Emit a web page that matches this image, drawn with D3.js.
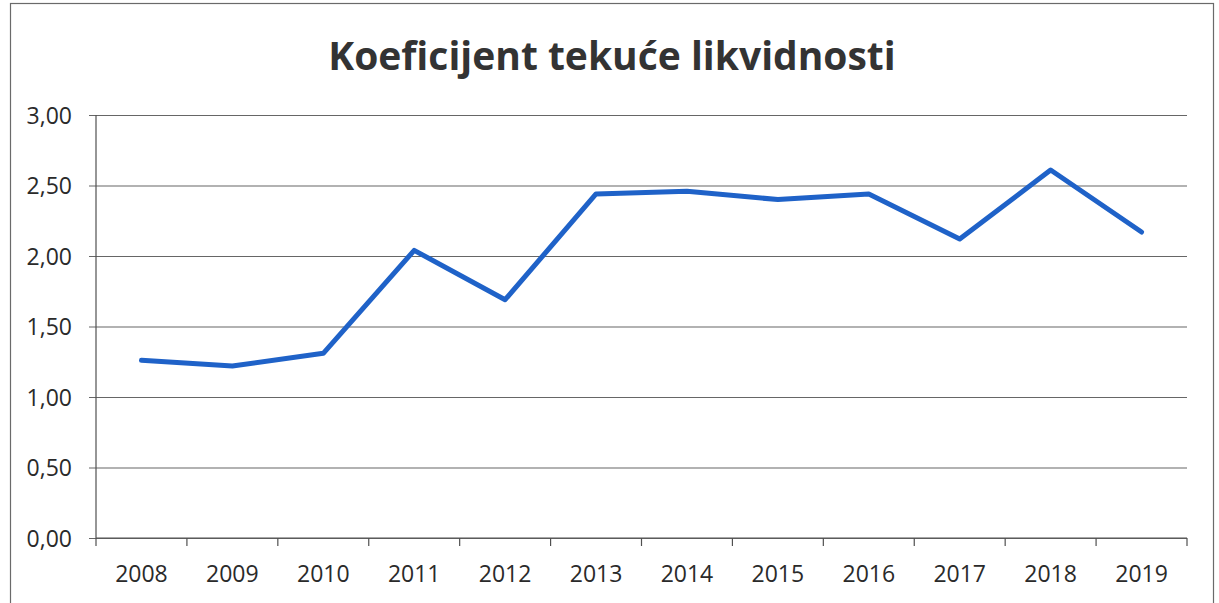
<!DOCTYPE html>
<html>
<head>
<meta charset="utf-8">
<script src="https://cdn.jsdelivr.net/npm/d3@7"></script>
<style>
  html, body { margin: 0; padding: 0; background: #fff; }
  svg { display: block; }
</style>
</head>
<body>
<div id="chart"></div>
<script>
// Chart data
const TITLE  = 'Koeficijent tekuće likvidnosti';
const YEARS  = ['2008', '2009', '2010', '2011', '2012', '2013', '2014', '2015', '2016', '2017', '2018', '2019'];
const RATIO  = [1.26, 1.22, 1.31, 2.04, 1.69, 2.44, 2.46, 2.40, 2.44, 2.12, 2.61, 2.17];
const Y_TICKS = [0, 0.5, 1, 1.5, 2, 2.5, 3];

const W = 1219, H = 603;
const INK   = '#2a2a2a';
const GRID  = '#666666';
const AXIS  = '#505050';
const BLUE  = '#1f62c8';
const FONT  = "'Open Sans', 'Noto Sans', sans-serif";

const margin = { top: 115, right: 32, bottom: 65, left: 96 };
const width  = W - margin.left - margin.right;
const height = H - margin.top - margin.bottom;

const locale = d3.formatLocale({ decimal: ',', thousands: '.', grouping: [3], currency: ['', ''] });
const fmt = locale.format('.2f');

const svg = d3.select('#chart').append('svg')
  .attr('width', W).attr('height', H)
  .attr('viewBox', `0 0 ${W} ${H}`);

svg.append('rect').attr('width', W).attr('height', H).attr('fill', '#fff');

// outer chart border (bottom edge runs off the page)
svg.append('rect')
  .attr('x', 10.5).attr('y', 3.5)
  .attr('width', 1203).attr('height', 640)
  .attr('fill', 'none')
  .attr('stroke', '#6a6a6a').attr('stroke-width', 1.2);

// title
const title = svg.append('text')
  .attr('x', 612).attr('y', 70)
  .attr('text-anchor', 'middle')
  .style('font-family', FONT)
  .style('font-weight', 700)
  .style('font-size', '36px')
  .style('fill', '#333333')
  .text(TITLE);
// fit to the width the title takes in the reference
const tl = title.node().getComputedTextLength();
if (tl > 0) title.style('font-size', (36 * 567 / tl).toFixed(1) + 'px');

const g = svg.append('g').attr('transform', `translate(${margin.left},${margin.top})`);

const x = d3.scaleBand().domain(YEARS).range([0, width]).padding(0);
const y = d3.scaleLinear().domain([0, 3]).range([height, 0]);

// gridlines + y labels
const yAxis = g.append('g')
  .call(d3.axisLeft(y).tickValues(Y_TICKS).tickSize(-width).tickPadding(0).tickFormat(fmt));
yAxis.select('.domain').remove();
yAxis.selectAll('.tick line')
  .attr('x1', -7)
  .style('stroke', GRID).style('stroke-width', 1.1);
yAxis.selectAll('.tick text')
  .attr('x', -24)
  .attr('dy', '0.35em')
  .style('font-family', FONT).style('font-size', '23px').style('fill', INK);

// left axis line
g.append('line')
  .attr('x1', 0).attr('x2', 0)
  .attr('y1', 0).attr('y2', height)
  .style('stroke', AXIS).style('stroke-width', 1.2);

// x axis: tick marks at category boundaries, labels centred in each band
const bounds = YEARS.map(d => x(d)).concat([width]);
g.append('g').selectAll('line.xt')
  .data(bounds)
  .join('line')
  .attr('class', 'xt')
  .attr('x1', d => d).attr('x2', d => d)
  .attr('y1', height).attr('y2', height + 8)
  .style('stroke', AXIS).style('stroke-width', 1.2);

g.append('line')
  .attr('x1', 0).attr('x2', width)
  .attr('y1', height).attr('y2', height)
  .style('stroke', AXIS).style('stroke-width', 1.2);

g.append('g').selectAll('text.xl')
  .data(YEARS)
  .join('text')
  .attr('class', 'xl')
  .attr('x', d => x(d) + x.bandwidth() / 2)
  .attr('y', height + 44)
  .attr('text-anchor', 'middle')
  .style('font-family', FONT).style('font-size', '23px').style('fill', INK)
  .text(d => d);

// series line
const line = d3.line()
  .x((d, i) => x(YEARS[i]) + x.bandwidth() / 2)
  .y(d => y(d));

g.append('path')
  .datum(RATIO)
  .attr('fill', 'none')
  .attr('stroke', BLUE)
  .attr('stroke-width', 5)
  .attr('stroke-linejoin', 'round')
  .attr('stroke-linecap', 'round')
  .attr('d', line);
</script>
</body>
</html>
